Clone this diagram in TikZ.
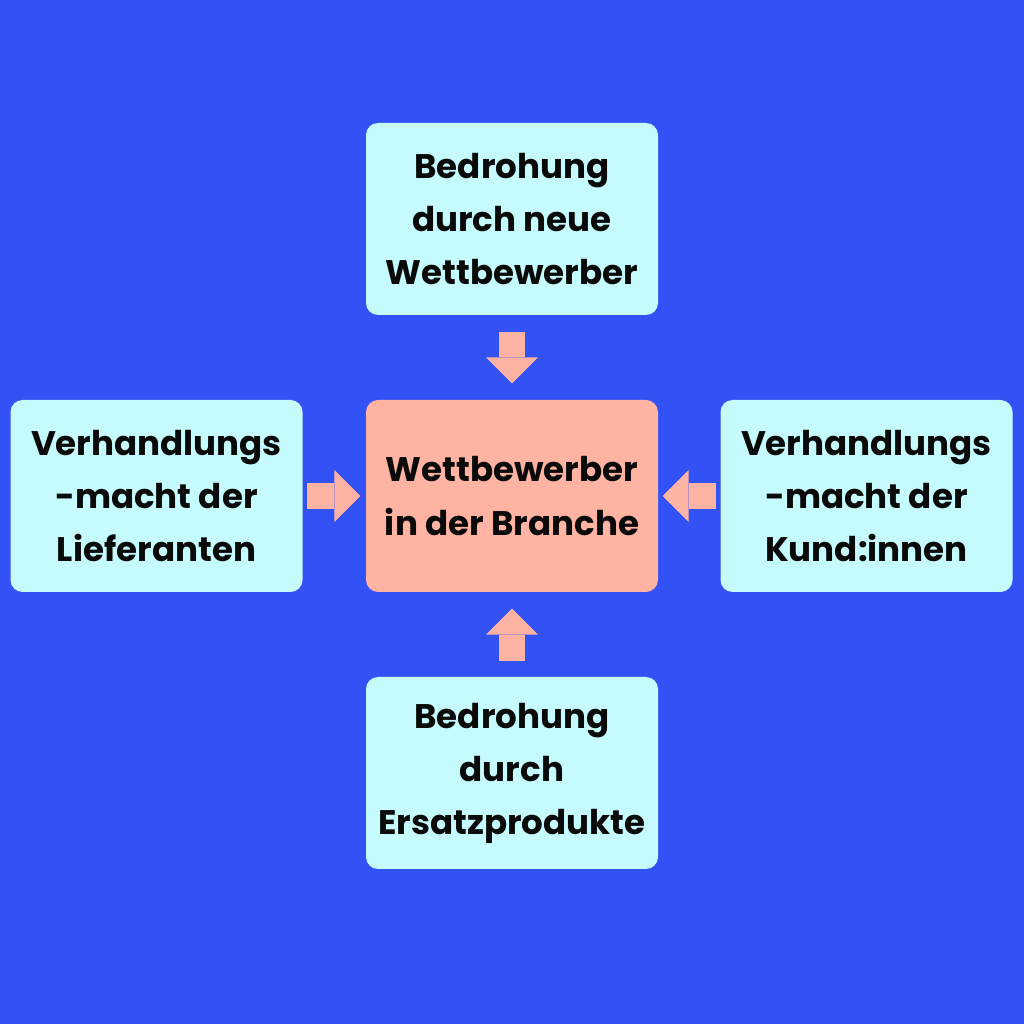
\documentclass[tikz,border=0pt]{standalone}
\usepackage{fontspec}
\setmainfont{Poppins}
\usetikzlibrary{arrows.meta, positioning, calc}
\definecolor{bgblue}{HTML}{3352F5}
\definecolor{icecyan}{HTML}{C5FBFD}
\definecolor{salmon}{HTML}{FFB3A3}
\definecolor{inkblack}{HTML}{0A0A0A}

\begin{document}
\begin{tikzpicture}[
  >={Triangle[length=2.6mm, width=5.2mm, line width=0pt]},
  forcebox/.style={
    fill=#1, rounded corners=1.2mm,
    minimum width=29.2mm, minimum height=19.2mm,
    font=\fontsize{9.7}{15.1}\selectfont\bfseries,
    text=inkblack, align=center, inner sep=0pt
  },
  arr/.style={->, line width=2.6mm, salmon},
]

% Background
\fill[bgblue] (0,0) rectangle (10.24,10.24);

% =============================================
% Center
% =============================================
\node[forcebox=salmon] (rivals) at (5.12,5.28)
  {Wettbewerber\\in der Branche};

% =============================================
% Four forces
% =============================================
\node[forcebox=icecyan] (entrants) at (5.12,8.05)
  {Bedrohung\\durch neue\\Wettbewerber};

\node[forcebox=icecyan] (suppliers) at (1.565,5.28)
  {Verhandlungs\\-macht der\\Lieferanten};

\node[forcebox=icecyan] (buyers) at (8.665,5.28)
  {Verhandlungs\\-macht der\\Kund:innen};

\node[forcebox=icecyan] (substitutes) at (5.12,2.51)
  {Bedrohung\\durch\\Ersatzprodukte};

% Arrows
\draw[arr, shorten <=1.6mm, shorten >=1.6mm] (entrants) -- (rivals);
\draw[arr, shorten <=0.4mm, shorten >=0.5mm] (suppliers) -- (rivals);
\draw[arr, shorten <=0.4mm, shorten >=0.4mm] (buyers) -- (rivals);
\draw[arr, shorten <=1.5mm, shorten >=1.6mm] (substitutes) -- (rivals);

\end{tikzpicture}
\end{document}
